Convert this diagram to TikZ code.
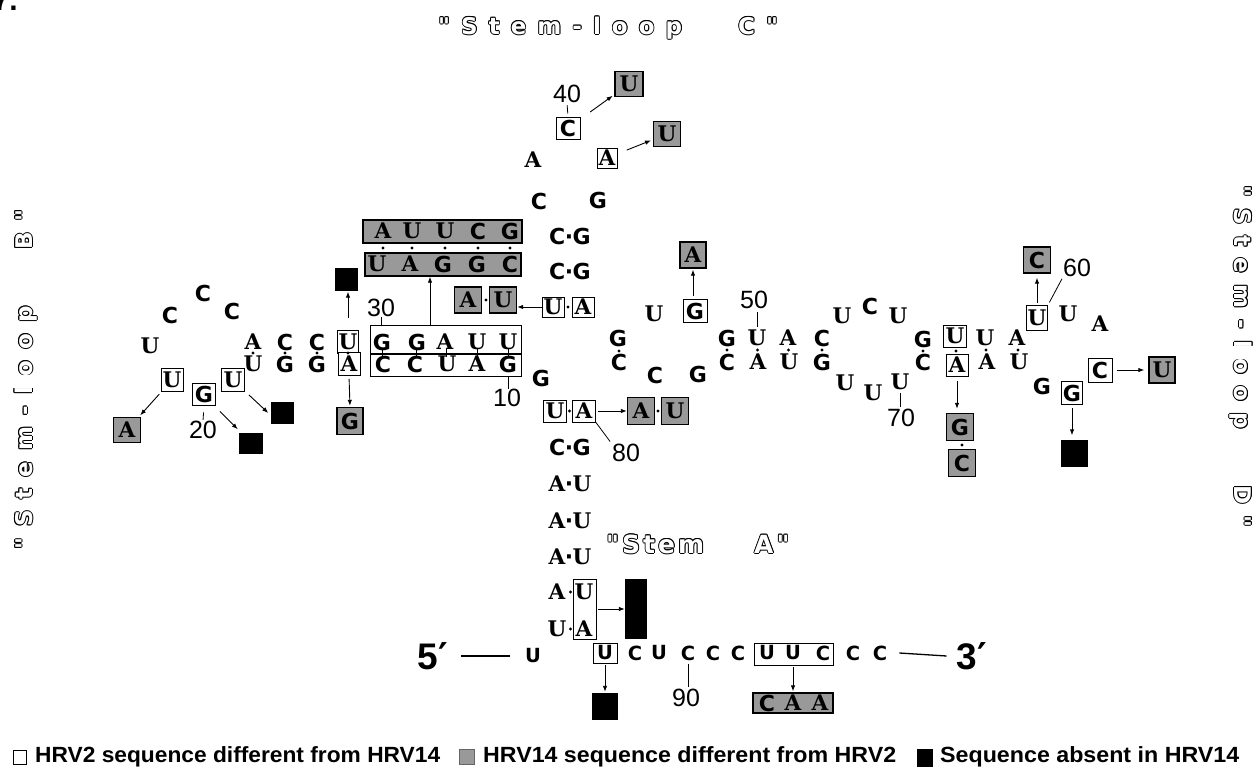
\documentclass[tikz,border=0pt]{standalone}
\usepackage{fontspec}
\usepackage{graphicx}
\usetikzlibrary{arrows.meta}
\setmainfont{DejaVu Sans}
\newfontfamily\fser{DejaVu Serif}
\newfontfamily\fsan{DejaVu Sans}
\newfontfamily\fnumf{Liberation Sans}
\newfontfamily\ftitle{DejaVu Sans}[LetterSpace=48]
\newfontfamily\fstema{DejaVu Sans}[LetterSpace=12]
\definecolor{shade}{gray}{0.6}
\def\tmpA{A}\def\tmpU{U}
\newcommand\serL[1]{{\fser\bfseries\fontsize{21.5}{21.5}\selectfont #1}}
\newcommand\sanL[1]{{\fsan\bfseries\fontsize{22}{22}\selectfont #1}}
\newcommand\Ltr[1]{\edef\tmpL{#1}\ifx\tmpL\tmpA\serL{\tmpL}\else\ifx\tmpL\tmpU\serL{\tmpL}\else\sanL{\tmpL}\fi\fi}
\newcommand\BPair[2]{\Ltr{#1}{\fsan\bfseries\fontsize{22}{22}\selectfont\kern-0.5pt·\kern-0.5pt}\Ltr{#2}}
\newcommand\smL[1]{{\fsan\bfseries\fontsize{19.5}{19.5}\selectfont #1}}
\newcommand\fnum{\fnumf\fontsize{25}{25}\selectfont}
\newcommand\fbig{\fnumf\bfseries\fontsize{37}{37}\selectfont}
\newcommand\leg{\fnumf\bfseries\fontsize{22}{22}\selectfont}
% hollow (outlined) lettering: black copies shifted all round, white copy on top
\newcommand\outl[1]{{\setbox0\hbox{#1}%
  \rlap{\raisebox{0.9pt}{\copy0}}\rlap{\raisebox{-0.9pt}{\copy0}}%
  \rlap{\kern0.9pt\copy0}\rlap{\kern-0.9pt\copy0}%
  \rlap{\kern0.65pt\raisebox{0.65pt}{\copy0}}\rlap{\kern-0.65pt\raisebox{0.65pt}{\copy0}}%
  \rlap{\kern0.65pt\raisebox{-0.65pt}{\copy0}}\rlap{\kern-0.65pt\raisebox{-0.65pt}{\copy0}}%
  \textcolor{white}{\copy0}}}
\begin{document}
\begin{tikzpicture}[x=1pt,y=-1pt,
  nt/.style={inner sep=0pt},
  bx/.style={draw,line width=0.9pt,fill=white,minimum width=22pt,minimum height=22pt,inner sep=0pt},
  bxo/.style={draw,line width=0.9pt,inner sep=0pt},
  shb/.style={draw,line width=1.4pt,fill=shade,minimum width=26pt,minimum height=26pt,inner sep=0pt},
  blk/.style={fill=black,inner sep=0pt,minimum width=23pt,minimum height=22pt},
  num/.style={inner sep=0pt,font=\fnum},
  arr/.style={line width=0.9pt,-{Latex[length=6pt,width=4.5pt]}},
  tk/.style={line width=0.8pt},
  ttl/.style={inner sep=0pt,font=\ftitle\bfseries\fontsize{23}{23}\selectfont},
]
\useasboundingbox (0,0) rectangle (1260,778);
% cut-off figure number
\node[anchor=base east,inner sep=0pt,font=\fnumf\bfseries\fontsize{30}{30}\selectfont] (fig) at (18,11) {7.};
% titles
\node[ttl,anchor=west] (tC) at (438,28) {\outl{"Stem-loop\hspace{56pt}C"}};
\node[ttl,anchor=west,rotate=90] (tB) at (26,550) {\outl{"Stem-loop\hspace{56pt}B"}};
\node[ttl,anchor=west,rotate=-90] (tD) at (1241,185) {\outl{"Stem-loop\hspace{56pt}D"}};
\node[inner sep=0pt,anchor=west,font=\fstema\bfseries\fontsize{25}{25}\selectfont] (tA) at (606,544) {\outl{"Stem\hspace{50pt}A"}};

% ---------- stem-loop C ----------
\node[num] (n40) at (567,94) {40};
\node[bx,minimum width=24pt] (bC40) at (568,128) {\Ltr C};
\node[shb,minimum width=28pt,minimum height=25pt] (sU40) at (629,84) {\Ltr U};
\node[nt] (lA39) at (533,160) {\Ltr A};
\node[bx,minimum width=20pt,minimum height=20pt] (bA41) at (607,158) {\Ltr A};
\node[shb,minimum width=27pt,minimum height=25pt] (sU41) at (667,134) {\Ltr U};
\node[nt] (lC38) at (539,201) {\Ltr C};
\node[nt] (lG42) at (598,200) {\Ltr G};
\node[nt] (p37) at (570,236) {\BPair CG};
\node[nt] (p36) at (570,271) {\BPair CG};
\node[bx,minimum height=20pt] (bU35) at (553,307) {\Ltr U};
\node[bx,minimum height=20pt] (bA45) at (583,307) {\Ltr A};
\fill (568,307) circle (1.7);
\node[shb,minimum width=27pt] (sA35) at (468,300) {\Ltr A};
\node[shb,minimum width=27pt] (sU35) at (503,300) {\Ltr U};
\fill (486,300) circle (1.7);
\draw[tk,shorten <=2pt,shorten >=3pt] (n40.south) -- (bC40.north);
\draw[arr,shorten <=12pt,shorten >=2pt] (bC40) -- (sU40);
\draw[arr,shorten <=10pt,shorten >=2pt] (bA41) -- (sU41);
\draw[arr] (bU35.west) -- (bU35.west -| sU35.east);

% substituted stem (HRV14)
\node[shb,minimum width=159pt,minimum height=23pt] (sAUUCG) at (442.5,231.5) {};
\foreach \x/\l [count=\i] in {383/A,412/U,445/U,478/C,510/G}
  \node[nt] (sa\i) at (\x,231) {\Ltr{\l}};
\foreach \x in {383,412,445,478,510} \fill (\x,248) circle (1.7);
\node[shb,minimum width=156pt,minimum height=23pt] (sUAGGC) at (443,264.5) {};
\foreach \x/\l [count=\i] in {377/U,410/A,443/G,477/G,510/C}
  \node[nt] (sb\i) at (\x,264) {\Ltr{\l}};
\node[blk,minimum width=23pt,minimum height=23pt] (k29) at (346,279) {};

% ---------- stem-loop B ----------
\node[bxo,minimum width=151pt,minimum height=28pt] (bGGAUU) at (445.5,339) {};
\node[bxo,minimum width=151pt,minimum height=22pt] (bCCUAG) at (445.5,365) {};
\node[nt] (lA26) at (253,342) {\Ltr A};
\node[nt] (lC27) at (285,342) {\Ltr C};
\node[nt] (lC28) at (317,342) {\Ltr C};
\node[bx,minimum width=21pt,minimum height=23pt] (bU29) at (348,342) {\Ltr U};
\foreach \x/\l/\n in {382/G/30,417/G/31,445/A/32,477/U/33,508/U/34}
  \node[nt] (l\n) at (\x,342) {\Ltr{\l}};
\node[nt] (lU18) at (253,364) {\Ltr U};
\node[nt] (lG17) at (285,364) {\Ltr G};
\node[nt] (lG16) at (317,364) {\Ltr G};
\node[bx,minimum width=22pt,minimum height=23pt] (bA15) at (349,364) {\Ltr A};
\foreach \x/\l/\n in {383/C/14,415/C/13,447/U/12,477/A/11,508/G/10}
  \node[nt] (l\n) at (\x,364) {\Ltr{\l}};
\foreach \x in {253,285,317,348} \fill (\x,353) circle (1.7);
\foreach \x in {382,416,446,477,508} \draw[tk] (\x,349) -- (\x,357);
\node[num] (n30) at (381,308) {30};
\draw[tk] (n30.south) -- (n30.south |- bGGAUU.north);
\node[num] (n10) at (507,398) {10};
\draw[tk] (bCCUAG.south -| l10) -- (n10.north -| l10);
\draw[arr,shorten <=12pt,shorten >=1pt] (bU29.north) -- (bU29.north |- k29.south);
\draw[arr] ([xshift=-15.5pt]bGGAUU.north) -- ([xshift=-13pt]sUAGGC.south);

\node[nt] (lC25) at (232,311) {\Ltr C};
\node[nt] (lC24) at (203,293) {\Ltr C};
\node[nt] (lC23) at (170,315) {\Ltr C};
\node[nt] (lU22) at (150,346) {\Ltr U};
\node[bx,minimum height=23pt] (bU21) at (172,380) {\Ltr U};
\node[bx,minimum width=23pt] (bG20) at (204,394) {\Ltr G};
\node[bx,minimum width=23pt,minimum height=23pt] (bU19) at (233,380) {\Ltr U};
\node[shb,minimum width=27pt,minimum height=25pt] (sA21) at (127,430) {\Ltr A};
\node[num] (n20) at (203,430) {20};
\node[blk,minimum width=24pt,minimum height=21pt] (k20) at (251,443) {};
\node[blk] (k19) at (282,413) {};
\node[shb,minimum width=26pt,minimum height=27pt] (sG15) at (350,421) {\Ltr G};
\draw[arr,shorten <=3pt,shorten >=2pt] (bU21) -- (sA21);
\draw[tk,shorten <=7pt,shorten >=1pt] (bG20.south) -- (n20.north);
\draw[arr] ([xshift=4pt,yshift=-6pt]bG20.south east) -- ([xshift=-1pt,yshift=3pt]k20.north west);
\draw[arr] ([xshift=4pt,yshift=-3pt]bU19.south east) -- ([xshift=-2pt]k19.west);
\draw[arr,shorten <=3pt,shorten >=1pt] (bA15.south) -- (sG15.north);

% ---------- central stem (A) ----------
\node[nt] (lG9) at (541,378) {\Ltr G};
\node[bx,minimum width=23pt] (bU80) at (555,411) {\Ltr U};
\node[bx,minimum width=23pt] (bA80) at (584,411) {\Ltr A};
\fill (569.5,411) circle (1.7);
\node[shb,minimum width=27pt,minimum height=27pt] (sA80) at (641,411) {\Ltr A};
\node[shb,minimum width=27pt,minimum height=27pt] (sU80) at (675,411) {\Ltr U};
\fill (658,411) circle (1.7);
\draw[arr,shorten <=2pt] (bA80.east) -- (sA80.west);
\node[num] (n80) at (626,453) {80};
\draw[tk,shorten >=3pt] (bA80.south east) -- (n80.north west);
\node[nt] (p8) at (570,447) {\BPair CG};
\node[nt] (p7) at (570,484) {\BPair AU};
\node[nt] (p6) at (570,521) {\BPair AU};
\node[nt] (p5) at (570,557) {\BPair AU};
\node[nt] (lA4) at (557,592) {\Ltr A};
\node[nt] (lU4) at (584,592) {\Ltr U};
\node[nt] (lU3) at (557,629) {\Ltr U};
\node[nt] (lA3) at (584,629) {\Ltr A};
\fill (570.5,592) circle (1.7);
\fill (570.5,629) circle (1.7);
\node[bxo,minimum width=23pt,minimum height=60pt] (bTall) at (584.5,609) {};
\node[blk,minimum width=22pt,minimum height=60pt] (kTall) at (636,609) {};
\draw[arr,shorten <=2pt] (bTall.east) -- (kTall.west);

% ---------- 5' - 3' line ----------
\node[nt,font=\fbig] (five) at (433,656) {5{\fsan\bfseries ′}};
\node[nt] (s1) at (533,656) {\smL U};
\draw[line width=1.3pt] ([xshift=13pt]five.east) -- ([xshift=-15pt]s1.west);
\node[bx,minimum width=24pt,minimum height=20pt] (bU1) at (605,653) {\smL U};
\foreach \x/\l/\n in {635/C/86,659/U/87,688/C/88,713/C/89,738/C/90}
  \node[nt] (b\n) at (\x,653) {\smL{\l}};
\node[bxo,minimum width=79pt,minimum height=22pt] (bUUC) at (793.5,654) {};
\foreach \x/\l/\n in {767/U/91,793/U/92,823/C/93,853/C/94,880/C/95}
  \node[nt] (b\n) at (\x,653) {\smL{\l}};
\node[nt,font=\fbig] (three) at (972,656) {3{\fsan\bfseries ′}};
\draw[line width=1.3pt] ([xshift=12pt]b95.east) -- ([xshift=-10pt]three.west);
\node[blk,minimum width=26pt,minimum height=27pt] (k1) at (605,706.5) {};
\draw[arr,shorten <=2pt,shorten >=1pt] (bU1.south) -- (k1.north);
\node[num] (n90) at (686,698) {90};
\draw[tk,shorten <=3pt,shorten >=2pt] (b88.south) -- (n90.north -| b88);
\node[shb,minimum width=80pt,minimum height=20pt] (sCAA) at (793,703) {};
\foreach \x/\l [count=\i] in {767/C,793/A,820/A}
  \node[nt] (sc\i) at (\x,703) {\Ltr{\l}};
\draw[arr,shorten <=2pt,shorten >=1pt] (bUUC.south -| b92) -- (sCAA.north -| b92);

% ---------- stem-loop D ----------
\node[nt] (lU46) at (654,314) {\Ltr U};
\node[bx,minimum width=24pt,minimum height=23pt] (bG47) at (695,311) {\Ltr G};
\node[shb] (sA47) at (693,255) {\Ltr A};
\draw[arr,shorten <=3pt,shorten >=1pt] ([xshift=-2pt]bG47.north) -- ([xshift=-2pt]bG47.north |- sA47.south);
\node[nt] (lG44) at (618,338) {\Ltr G};
\node[nt] (lC83) at (619,362) {\Ltr C};
\fill (619,351) circle (1.7);
\node[nt] (lC82) at (655,375) {\Ltr C};
\node[nt] (lG81) at (698,374) {\Ltr G};
\foreach \x/\l/\n in {727/G/48,757/U/50,788/A/51,822/C/52}
  \node[nt] (l\n) at (\x,338) {\Ltr{\l}};
\foreach \x/\l/\n in {727/C/80,758/A/79,789/U/78,822/G/77}
  \node[nt] (m\n) at (\x,362) {\Ltr{\l}};
\foreach \x in {727,757.5,788.5,822} \fill (\x,350) circle (1.7);
\node[num] (n50) at (754,300) {50};
\draw[tk,shorten <=3pt,shorten >=3pt] (n50.south -| l50) -- (l50.north);
\node[nt] (lU53) at (842,316) {\Ltr U};
\node[nt] (lC54) at (870,306) {\Ltr C};
\node[nt] (lU55) at (898,316) {\Ltr U};
\node[nt] (lU76) at (845,383) {\Ltr U};
\node[nt] (lU75) at (873,393) {\Ltr U};
\node[nt] (lU74) at (900,382) {\Ltr U};
\node[num] (n70) at (901,418) {70};
\draw[tk,shorten <=3pt,shorten >=2pt] (lU74.south) -- (n70.north -| lU74);
\node[nt] (lG56) at (923,339) {\Ltr G};
\node[nt] (lC73) at (923,362) {\Ltr C};
\fill (923,351) circle (1.7);
\node[bx,minimum width=23pt] (bU57) at (955,336) {\Ltr U};
\node[bx] (bA72) at (957,365) {\Ltr A};
\fill (956,351) circle (1.7);
\node[nt] (lU58) at (985,338) {\Ltr U};
\node[nt] (lA71) at (987,362) {\Ltr A};
\fill (986,350) circle (1.7);
\node[nt] (lA59) at (1017,338) {\Ltr A};
\node[nt] (lU70) at (1019,362) {\Ltr U};
\fill (1018,350) circle (1.7);
\node[bx,minimum width=21pt,minimum height=25pt] (bU60) at (1037,318) {\Ltr U};
\node[nt] (lU61) at (1068,314) {\Ltr U};
\node[nt] (lA62) at (1100,324) {\Ltr A};
\node[shb,minimum width=27pt] (sC60) at (1037,260) {\Ltr C};
\node[num] (n60) at (1077,268) {60};
\draw[arr,shorten <=2pt,shorten >=4pt] (bU60.north) -- (sC60.south);
\draw[tk,shorten <=3pt,shorten >=2pt] (bU60.north east) -- (n60.south west);
\node[shb,minimum width=27pt,minimum height=27pt] (sG72) at (960,427) {\Ltr G};
\node[shb,minimum width=27pt,minimum height=27pt] (sC72) at (962,463) {\Ltr C};
\fill (962,445) circle (1.7);
\draw[arr,shorten <=5pt,shorten >=4pt] (bA72.south) -- (bA72.south |- sG72.north);
\node[nt] (lG65) at (1042,386) {\Ltr G};
\node[bx,minimum width=21pt,minimum height=23pt] (bG64) at (1072,393) {\Ltr G};
\node[blk,minimum width=27pt,minimum height=27pt] (k64) at (1074,453) {};
\draw[arr,shorten <=3pt,shorten >=4pt] (bG64.south) -- (bG64.south |- k64.north);
\node[bx,minimum width=24pt,minimum height=24pt] (bC63) at (1100,370) {\Ltr C};
\node[shb] (sU63) at (1162,370) {\Ltr U};
\draw[arr,shorten <=5pt,shorten >=4pt] (bC63.east) -- (sU63.west);

% ---------- legend ----------
\node[draw,line width=0.8pt,minimum width=13pt,minimum height=14pt,inner sep=0pt] (lg1) at (20,757) {};
\node[anchor=west,inner sep=0pt,font=\leg] (lt1) at (35,757) {\resizebox{405pt}{\height}{HRV2 sequence different from HRV14}};
\node[fill=shade,draw=black!60,line width=0.5pt,minimum width=15pt,minimum height=15pt,inner sep=0pt] (lg2) at (467,757) {};
\node[anchor=west,inner sep=0pt,font=\leg] (lt2) at (483,757) {\resizebox{413pt}{\height}{HRV14 sequence different from HRV2}};
\node[fill=black,minimum width=16pt,minimum height=18pt,inner sep=0pt] (lg3) at (925,758) {};
\node[anchor=west,inner sep=0pt,font=\leg] (lt3) at (940,757) {\resizebox{299pt}{\height}{Sequence absent in HRV14}};
\end{tikzpicture}
\end{document}
